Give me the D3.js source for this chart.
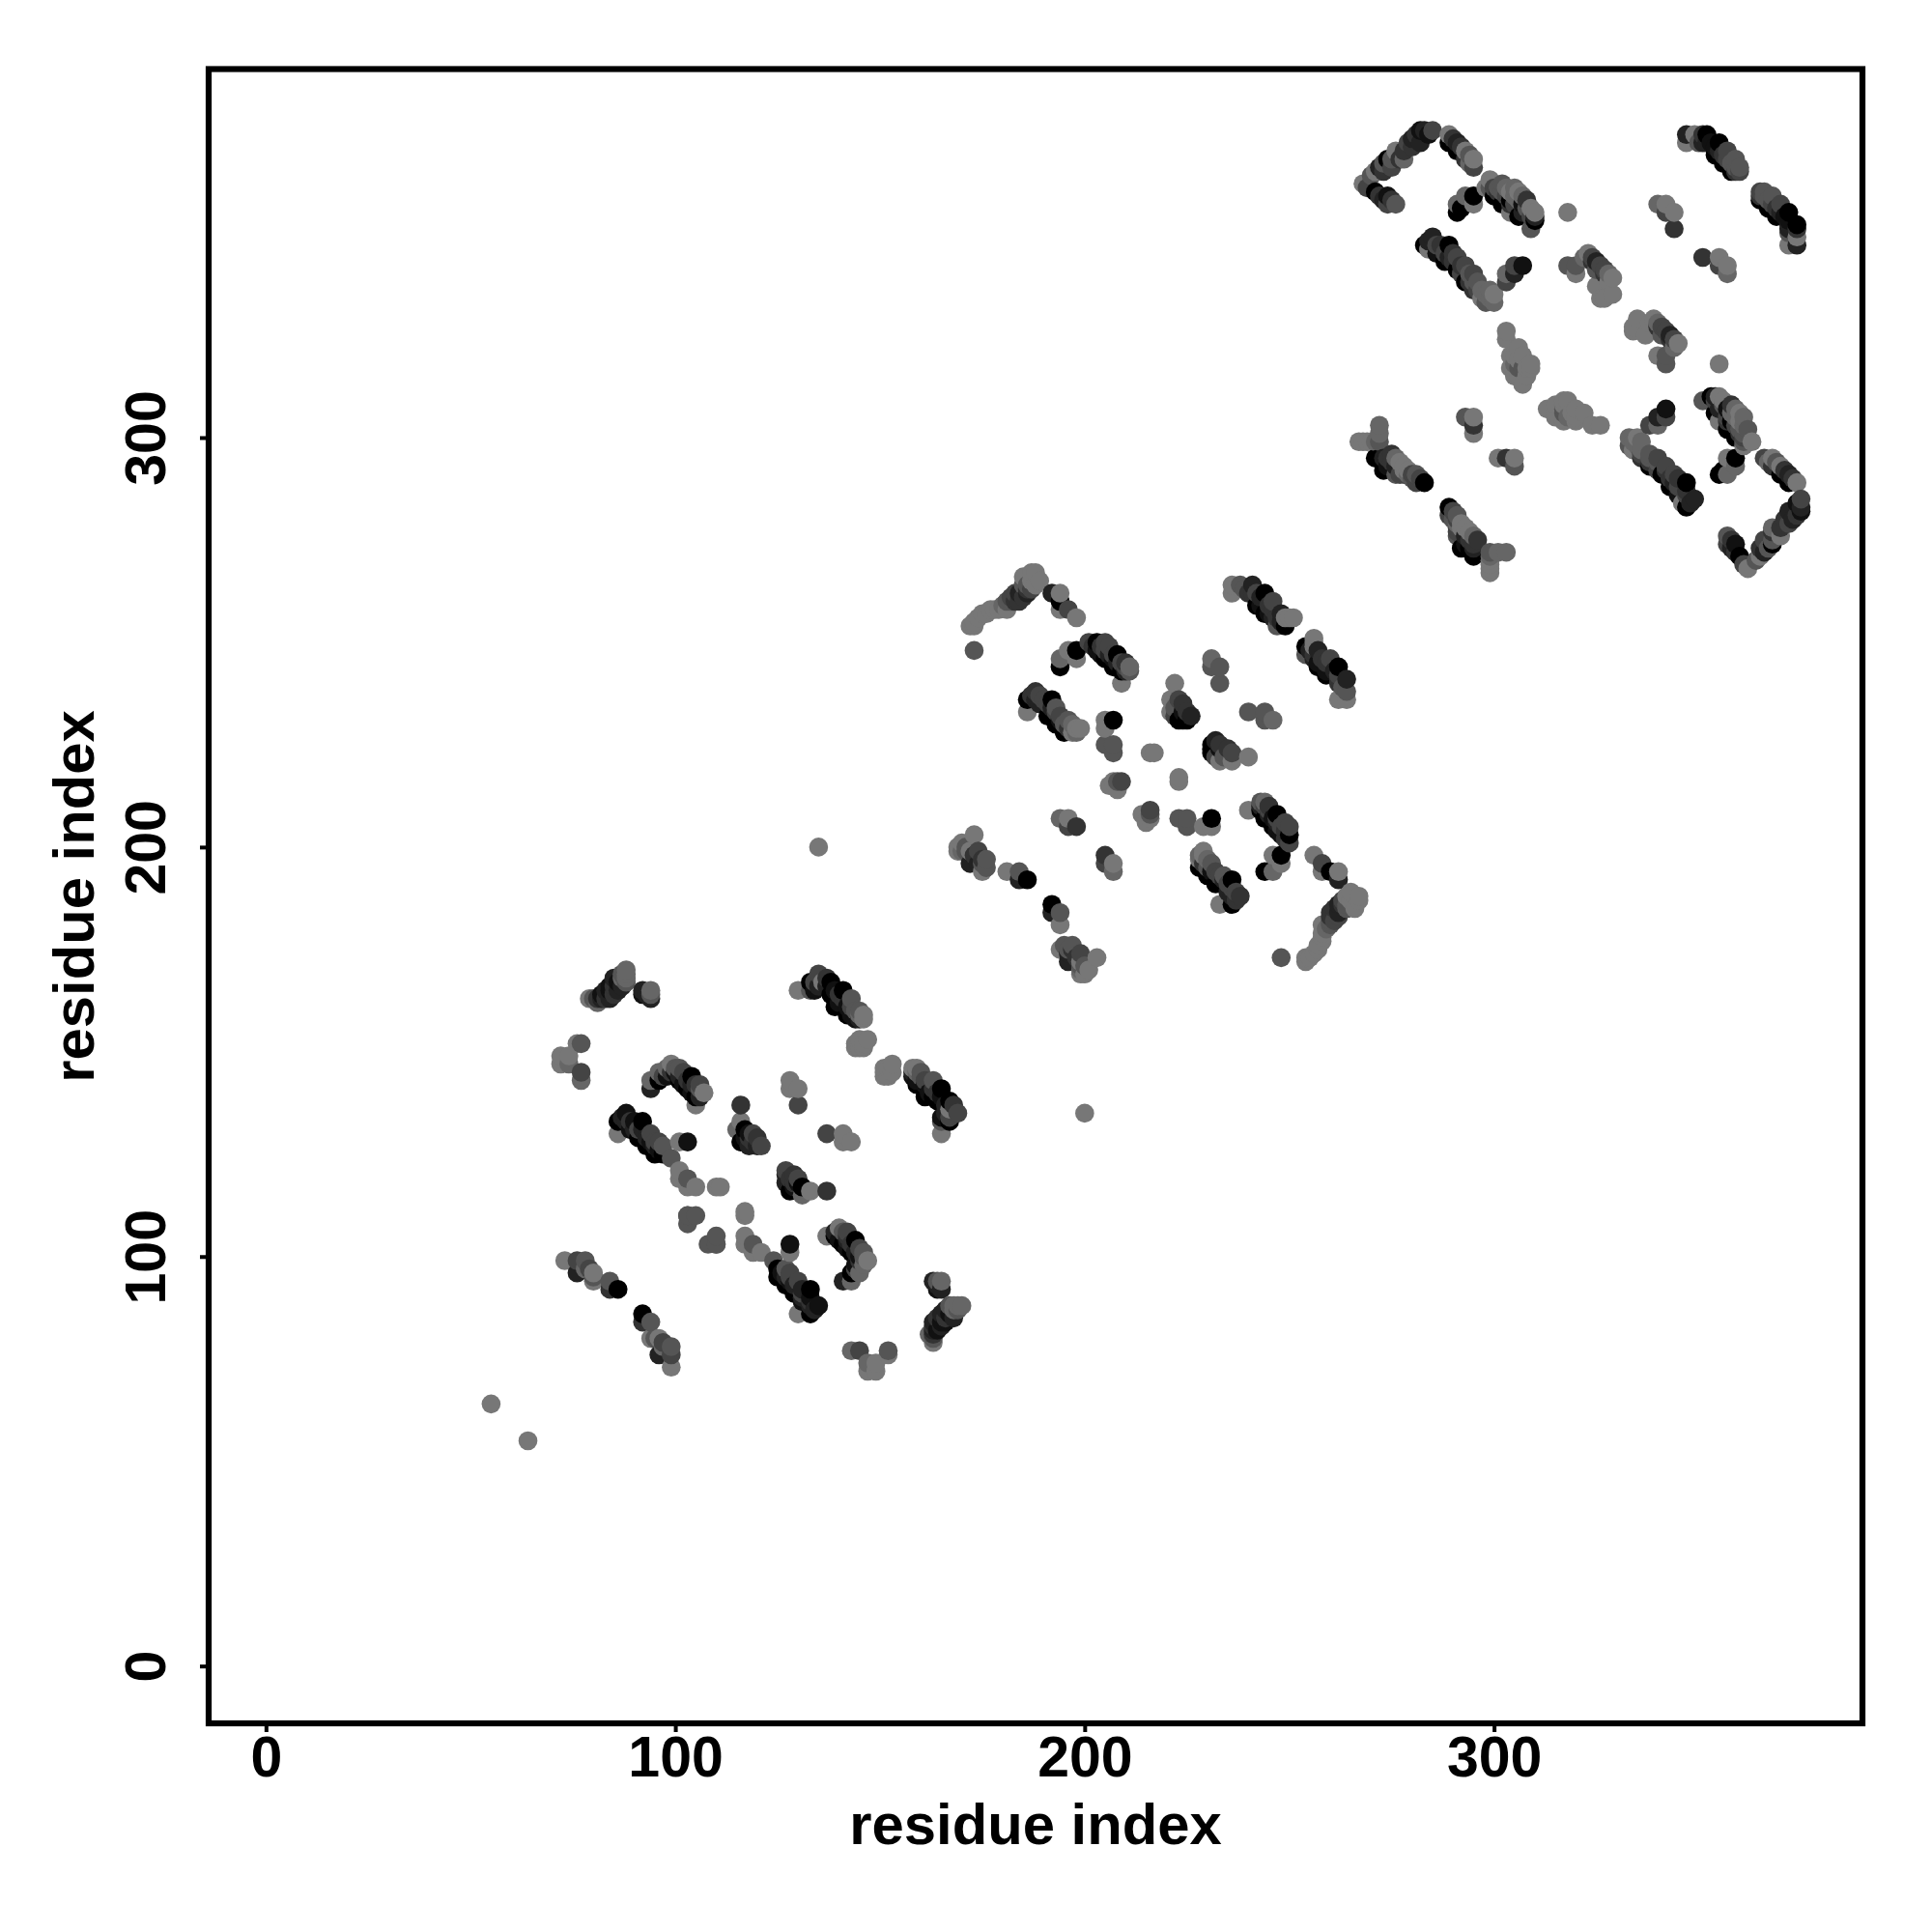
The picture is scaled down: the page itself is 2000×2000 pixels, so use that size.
<!DOCTYPE html>
<html><head><meta charset="utf-8">
<script src="https://cdn.jsdelivr.net/npm/d3@7/dist/d3.min.js"></script>
<style>html,body{margin:0;padding:0;background:#fff}svg{display:block}</style></head>
<body><svg id="c" width="2000" height="2000"></svg>
<script>
const tickValues = [0, 100, 200, 300];
const axisTitle = "residue index";
// [residue i, residue j, shade 0 (black) .. 7 (mid gray)]; the contact map is symmetric
const isolatedContacts = [[55,64,7],[135,200,7]];
const domainOneContacts = [
[73,99,7],[76,96,2],[76,99,4],[78,97,6],[78,99,5],[79,97,4],[80,94,7],[80,95,5],[80,96,7],[84,92,3],[84,94,5],[86,92,0],
[72,147,7],[72,149,7],[74,147,6],[74,149,7],[76,152,7],[77,152,5],[77,143,6],[77,145,4],
[79,163,7],[81,162,6],[81,163,3],[82,164,1],[83,165,2],[84,163,2],[84,166,1],[85,168,2],[86,165,2],[86,167,1],[88,167,5],[88,168,6],[88,170,6],[92,165,2],[94,163,2],[94,165,6],
[94,141,2],[94,143,6],[96,143,0],[96,145,6],[99,147,7],[100,145,1],[101,143,0],[101,146,5],[103,141,0],[104,144,0],[105,137,7],[105,139,0],[106,142,4],[107,140,7],
[86,130,7],[86,133,0],[88,133,2],[88,135,1],[90,133,1],[91,129,0],[92,133,0],[93,127,0],[94,130,4],[95,125,0],[96,128,4],[97,125,0],[99,124,5],[101,119,7],[101,121,7],[103,117,7],[103,119,5],[105,117,7],[110,117,7],[111,117,7],[103,110,5],[105,110,5],[108,103,5],[110,103,5],
[101,128,7],[103,128,1],
[115,131,6],[116,128,0],[116,133,7],[116,137,3],[117,131,0],[118,127,2],[118,130,1],[120,129,3],[121,127,4],
[128,141,7],[128,143,7],[130,137,4],[130,141,7],
[130,165,7],[133,165,5],[133,167,0],[135,169,4],[136,167,7],[138,164,0],[138,167,0],[139,161,0],[141,165,0],[142,159,0],[143,163,5],[144,158,1],[145,160,5],[146,158,7],
[144,151,7],[144,152,7],[145,151,7],[146,152,7],[147,153,7]
];
const domainOneFill = [
[80,163,5],[82,163,2],[83,163,3],[84,165,1],[85,164,3],[85,166,3],[87,166,2],[87,169,5],[87,168,6],[88,169,6],[92,164,1],[93,164,2],[94,164,5],
[97,144,4],[98,146,6],[98,144,1],[99,145,3],[100,146,5],[101,144,2],[102,145,4],[102,142,1],[103,143,3],[104,142,2],[105,142,3],[104,140,1],[106,141,5],[106,139,2],
[87,134,2],[89,133,3],[89,131,1],[90,131,2],[91,131,4],[92,131,2],[93,129,2],[94,128,1],[95,128,4],[95,127,2],[96,126,1],[97,127,5],
[117,129,1],[118,129,3],[119,128,3],[119,130,4],[120,127,2],
[134,167,4],[134,165,1],[135,166,2],[137,166,2],[137,168,3],[139,165,1],[139,163,0],[140,164,3],[140,162,1],[141,163,3],[142,161,1],[143,161,4],[143,159,1],[144,160,5],[145,158,2],[145,159,6],[146,159,7],
[145,153,7],[146,151,7]
];
const domainTwoContacts = [
[169,199,7],[169,200,7],[170,201,7],[171,200,5],[172,196,2],[172,199,7],[173,203,7],[174,196,2],[174,199,4],[175,194,7],[176,197,5],[181,194,7],[184,192,2],[184,194,5],[186,192,0],
[173,248,5],
[173,254,7],[173,255,7],[175,257,7],[177,258,7],[179,258,7],[181,258,7],[181,260,5],[182,260,5],[183,262,4],[184,260,3],[185,264,5],[185,266,7],[186,262,2],[187,265,7],[188,264,7],[188,267,7],
[192,262,2],[194,258,7],[194,260,0],[194,262,7],[196,258,4],[198,256,7],
[194,244,0],[194,246,6],[196,248,7],[198,246,7],[198,248,0],[201,250,4],[203,248,1],[203,250,0],[205,246,0],[205,250,4],[206,249,4],[207,244,0],[208,247,0],[209,240,7],[209,243,0],[210,245,3],[211,243,5],
[186,233,7],[186,236,0],[188,236,2],[188,238,3],[190,236,4],[191,232,0],[192,236,0],[193,230,0],[193,233,4],[195,228,0],[196,231,5],[197,228,7],[198,229,7],
[205,229,7],[205,231,7],[207,231,0],[205,225,5],[207,223,5],[207,225,5],[216,223,7],[217,223,7],
[206,215,7],[207,216,7],[208,214,7],[208,216,5],[209,216,4],
[194,207,6],[196,205,4],[196,207,7],[198,205,3],
[221,233,7],[221,236,7],[222,234,5],[222,240,7],[223,231,0],[223,236,4],[224,233,1],[225,231,0],[226,232,2],
[231,244,5],[231,246,6],[233,240,5],[233,244,5],
[236,262,7],[236,264,7],[238,264,5],[241,262,3],[241,264,2],[242,259,0],[244,257,0],[244,262,0],[246,258,3],[246,260,4],[247,254,5],[248,257,2],[249,254,0],[250,256,7]
];
const domainTwoFill = [
[239,263,5],[240,262,3],[242,262,4],[243,261,2],[243,259,1],[245,259,3],[245,257,1],[246,256,2],[247,256,3],[248,255,2],[249,256,7],[251,256,7],
[202,249,3],[204,249,3],[204,247,1],[205,248,4],[206,247,2],[207,247,4],[207,246,1],[208,245,2],[209,245,4],[210,243,2],[210,244,4],[211,244,6],
[187,237,3],[189,237,4],[189,235,2],[191,235,4],[192,234,2],[193,234,5],[194,232,4],[194,231,1],[195,230,5],[196,229,3],[197,230,6],[198,228,6],[199,229,7],
[180,259,6],[182,261,4],[183,260,3],[184,262,2],[185,261,3],[186,263,3],[186,264,5],[187,267,7],[187,263,4],[189,265,7],[174,256,7],[176,257,7],[178,258,7],[172,254,7],
[170,199,6],[173,198,3],[175,197,3],[175,196,5],[176,195,5],[171,199,5],
[222,232,4],[224,235,3],[225,233,3],[224,231,0]
];
const domainThreeContacts = [
[267,299,7],[269,299,7],[271,295,0],[272,295,0],[272,299,5],[272,301,6],[272,303,6],[273,292,0],[273,294,0],[275,296,3],[276,291,5],[277,291,4],[277,294,7],[278,292,7],[278,293,7],[279,291,6],[281,289,4],[281,291,5],[283,289,0],
[293,305,5],[295,301,7],[295,303,3],[295,305,7],
[303,324,7],[303,326,7],[304,317,7],[305,315,7],[305,320,7],[306,315,7],[306,317,5],[307,313,7],[307,320,7],[308,315,7],[309,317,7],[309,318,7],
[268,362,7],[269,361,4],[271,365,7],[272,366,2],[273,367,5],[274,368,0],[275,368,5],[276,370,7],[278,368,6],[278,370,3],[280,371,3],[280,373,2],[282,372,2],[282,375,1],[283,375,2],[285,375,4],
[289,372,0],[289,374,7],[291,370,0],[291,372,2],[293,368,3],[293,370,7],[295,366,4],[295,368,7],
[271,360,0],[272,359,3],[274,357,4],[274,359,1],[276,357,5],
[291,355,0],[291,357,6],[292,356,0],[293,359,6],[295,357,7],[295,359,0],
[298,361,7],[299,363,7],[300,359,0],[301,361,5],[302,357,0],[302,362,5],[304,355,7],[304,358,0],[304,360,7],[306,354,0],[306,360,7],[307,357,1],[308,358,3],[309,351,5],[310,353,0],[310,355,7],
[318,355,7],
[283,347,0],[284,346,7],[285,349,2],[287,347,3],[288,343,0],[289,347,0],[290,345,3],[291,341,0],[291,344,4],[293,338,0],[293,342,4],[295,336,3],[295,340,4],[296,338,5],[297,334,7],[299,334,6],[299,336,6],
[303,338,4],[303,340,6],[305,340,2],[305,342,4],[307,342,1],
[318,342,5],[320,340,7],[320,342,5],[323,345,7],[324,344,4],[325,337,7],[325,341,5],[325,343,2],[326,334,7],[327,334,7],[327,341,4],[329,335,7],[329,339,7],
[340,357,6],[342,355,4],[342,357,7],[344,351,3],[344,355,7],
[347,372,7],[347,374,2],[349,374,7],[351,374,3],[352,372,2],[352,374,0],[354,369,0],[355,372,0],[356,367,0],[357,370,4],[358,365,0],[359,368,5],[360,366,5]
];
const domainThreeFill = [
[270,364,5],[273,365,3],[275,366,4],[277,368,3],[279,372,4],[281,374,3],[284,374,1],[290,373,3],[292,371,3],[294,369,5],[294,367,6],
[299,361,5],[300,361,4],[301,360,3],[302,360,5],[303,359,4],[303,361,6],[304,357,3],[305,359,6],[305,357,4],[306,358,6],[307,355,2],[308,356,5],[309,354,4],[309,356,7],[310,354,2],[305,361,6],[307,359,6],
[284,348,2],[286,347,4],[286,345,1],[288,345,4],[289,344,2],[290,343,3],[292,342,3],[292,340,4],[294,340,5],[294,338,3],[295,338,5],[296,336,4],[297,336,6],[298,335,6],[298,333,5],[300,335,7],[300,333,6],
[350,372,5],[351,372,2],[353,372,1],[354,371,1],[355,370,2],[356,369,3],[357,368,4],[358,367,5],[359,366,5],[359,365,3],[360,365,4],
[273,295,2],[274,295,3],[274,293,1],[275,294,3],[276,293,2],[276,295,6],[278,291,4],[279,292,7],[280,290,5],[280,291,4],[282,290,4],
[268,299,7],[270,299,7],[271,299,6],
[324,343,3],[326,342,4],[327,340,3],[328,340,6],[328,338,7],[322,344,6],
[304,320,7],[306,319,7],[305,318,6],[307,317,5],[308,317,7],[306,322,7],
[273,358,2],[275,358,3]
];

const contacts = [...isolatedContacts, ...domainOneContacts, ...domainOneFill, ...domainTwoContacts, ...domainTwoFill, ...domainThreeContacts, ...domainThreeFill];
const points = [];
contacts.forEach(([i, j, s]) => { points.push({x:i, y:j, s}); points.push({x:j, y:i, s}); });
points.sort((a, b) => d3.ascending(a.x, b.x) || d3.ascending(a.y, b.y));

const svg = d3.select("#c");
const x = d3.scaleLinear().domain([-14, 390]).range([216, 1928]);
const y = d3.scaleLinear().domain([-14, 390]).range([1784, 71.5]);
const shade = d3.scaleLinear().domain([0, 7]).range(["#000000", "#777777"]);
const font = "'Liberation Sans', Arial, sans-serif";

svg.append("rect").attr("width", 2000).attr("height", 2000).attr("fill", "#fff");

svg.append("g").selectAll("circle").data(points).join("circle")
  .attr("cx", d => x(d.x)).attr("cy", d => y(d.y)).attr("r", 9.8)
  .attr("fill", d => shade(d.s));

svg.append("rect").attr("x", 216).attr("y", 71.5).attr("width", 1712).attr("height", 1712.5)
  .attr("fill", "none").attr("stroke", "#000").attr("stroke-width", 6.2);

const gx = svg.append("g").attr("transform", "translate(0,1784)")
  .call(d3.axisBottom(x).tickValues(tickValues).tickSize(9).tickSizeOuter(0).tickFormat(d3.format("d")));
const gy = svg.append("g").attr("transform", "translate(216,0)")
  .call(d3.axisLeft(y).tickValues(tickValues).tickSize(9).tickSizeOuter(0).tickFormat(d3.format("d")));
[gx, gy].forEach(g => {
  g.select(".domain").remove();
  g.selectAll("line").attr("stroke", "#000").attr("stroke-width", 4);
  g.selectAll("text").attr("font-family", font).attr("font-weight", "bold").attr("font-size", 59).attr("fill", "#000");
});
gx.selectAll("text").attr("y", 55).attr("dy", 0).attr("text-anchor", "middle");
gy.selectAll("text").attr("x", 0).attr("dy", 0).attr("text-anchor", "middle").attr("transform", "translate(-45,0) rotate(-90)");

svg.append("text").attr("x", 1072).attr("y", 1909).attr("text-anchor", "middle")
  .attr("font-family", font).attr("font-weight", "bold").attr("font-size", 59.8).text(axisTitle);
svg.append("text").attr("transform", "translate(97,928) rotate(-90)").attr("text-anchor", "middle")
  .attr("font-family", font).attr("font-weight", "bold").attr("font-size", 59.8).text(axisTitle);
</script></body></html>
